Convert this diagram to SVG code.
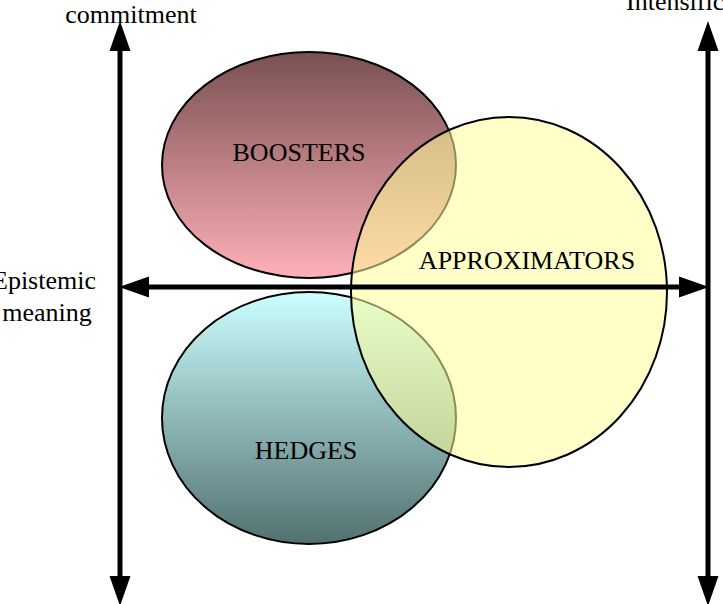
<svg xmlns="http://www.w3.org/2000/svg" width="723" height="604" viewBox="0 0 723 604">
<style>
text{font-family:"Liberation Serif",serif;font-size:26px;fill:#000}
.ax{stroke:#000;stroke-width:5;fill:none}
.el{stroke:#000;stroke-width:2}
</style>
<defs>
<linearGradient id="gb" x1="0" y1="0" x2="0" y2="1"><stop offset="0" stop-color="#785050"/><stop offset="1" stop-color="#ffb0b8"/></linearGradient>
<linearGradient id="gh" x1="0" y1="0" x2="0" y2="1"><stop offset="0" stop-color="#ccffff"/><stop offset="1" stop-color="#527070"/></linearGradient>
<marker id="ar" viewBox="0 0 10 10" refX="2" refY="5" markerWidth="6" markerHeight="6" orient="auto-start-reverse" markerUnits="strokeWidth"><path d="M0,1.5 L10,5 L0,8.5 Z" fill="#000"/></marker>
</defs>
<rect width="723" height="604" fill="#fff"/>
<g id="boosters"><ellipse class="el" cx="309" cy="165" rx="147" ry="113" fill="url(#gb)"/><text x="299" y="161" text-anchor="middle">BOOSTERS</text></g>
<g id="hedges"><ellipse class="el" cx="309" cy="418" rx="147" ry="126" fill="url(#gh)"/><text x="306" y="459" text-anchor="middle">HEDGES</text></g>
<g id="approximators"><ellipse class="el" cx="509" cy="292" rx="158" ry="175" fill="#ffff99" fill-opacity="0.55"/><text x="527" y="269" text-anchor="middle">APPROXIMATORS</text></g>
<g id="connectors">
<line class="ax" x1="120" y1="45" x2="120" y2="582" marker-start="url(#ar)" marker-end="url(#ar)"/>
<line class="ax" x1="708" y1="45" x2="708" y2="582" marker-start="url(#ar)" marker-end="url(#ar)"/>
<line class="ax" x1="143" y1="287" x2="685" y2="287" marker-start="url(#ar)" marker-end="url(#ar)"/>
</g>
<g id="labels">
<text x="131" y="23" text-anchor="middle">commitment</text>
<text x="626" y="10">Intensific</text>
<text x="44" y="289" text-anchor="middle">Epistemic</text>
<text x="47" y="321" text-anchor="middle">meaning</text>
</g>
</svg>
